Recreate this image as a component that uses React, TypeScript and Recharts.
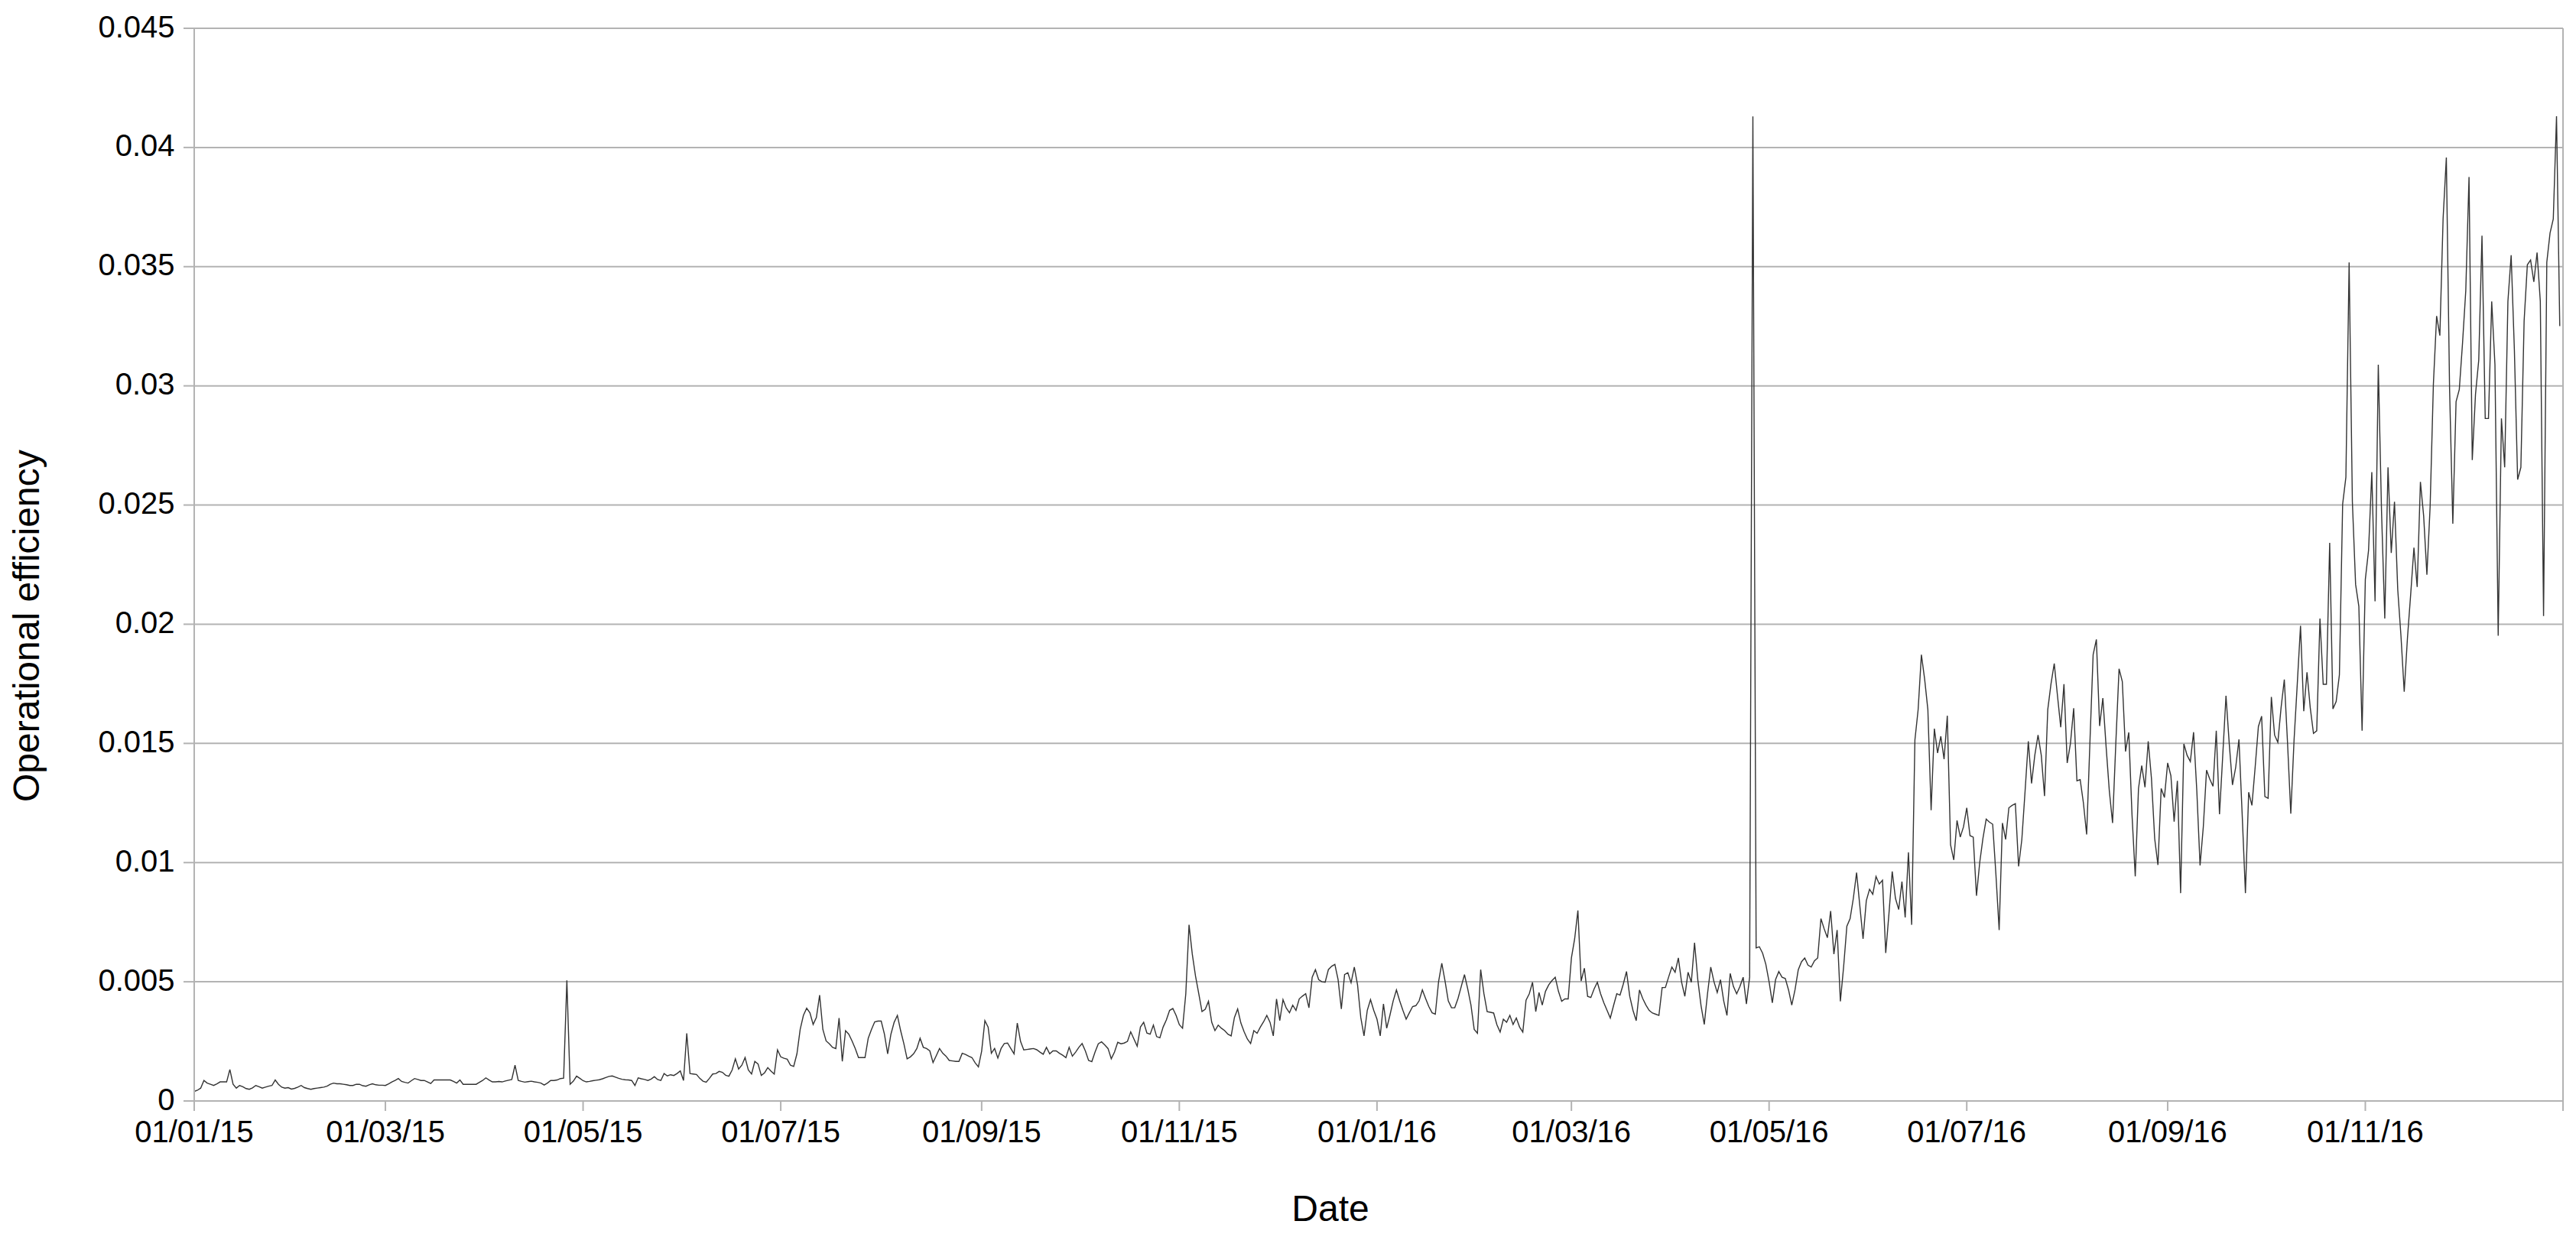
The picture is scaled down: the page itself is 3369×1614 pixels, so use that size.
import React from 'react';
import { LineChart, Line, XAxis, YAxis, CartesianGrid, ReferenceLine } from 'recharts';

// Daily operational efficiency, first value = 01/01/15, one value per day (to 31/12/16)
const startDate = '01/01/15';

const efficiency: number[] = [
  0.0004, 0.00045, 0.00054, 0.00086, 0.00075, 0.0007, 0.00065, 0.00072, 0.0008, 0.0008,
  0.0008, 0.00132, 0.0007, 0.00054, 0.00065, 0.0006, 0.00052, 0.00049, 0.00055, 0.00065,
  0.0006, 0.00054, 0.00058, 0.00062, 0.00065, 0.00088, 0.0007, 0.00058, 0.00054, 0.00056,
  0.0005, 0.00053, 0.00058, 0.00065, 0.00056, 0.00052, 0.00049, 0.00052, 0.00054, 0.00056,
  0.00058, 0.00062, 0.0007, 0.00075, 0.00072, 0.00072, 0.0007, 0.00068, 0.00065, 0.00065,
  0.0007, 0.0007, 0.00064, 0.00062, 0.00068, 0.00072, 0.00068, 0.00066, 0.00066, 0.00065,
  0.00072, 0.0008, 0.00086, 0.00094, 0.00082, 0.00078, 0.00075, 0.00085, 0.00094, 0.0009,
  0.00086, 0.00086, 0.0008, 0.00073, 0.00088, 0.00088, 0.00088, 0.00088, 0.00088, 0.00088,
  0.00082, 0.00075, 0.00088, 0.0007, 0.0007, 0.0007, 0.0007, 0.0007, 0.00078, 0.00086,
  0.00097, 0.00088, 0.0008, 0.0008, 0.00082, 0.0008, 0.00084, 0.00087, 0.0009, 0.0015,
  0.00086, 0.00082, 0.00079, 0.00081, 0.00083, 0.0008, 0.00078, 0.00075, 0.00067, 0.00075,
  0.00086, 0.00086, 0.00088, 0.00094, 0.00096, 0.00506, 0.0007, 0.00083, 0.00104, 0.00095,
  0.00085, 0.0008, 0.00082, 0.00085, 0.00087, 0.00089, 0.00093, 0.00098, 0.00103, 0.00105,
  0.001, 0.00095, 0.00091, 0.00089, 0.00088, 0.00086, 0.00065, 0.00097, 0.00093, 0.0009,
  0.00086, 0.00092, 0.00102, 0.0009, 0.00086, 0.00115, 0.00105, 0.0011, 0.00107, 0.00115,
  0.00126, 0.00086, 0.00284, 0.00115, 0.00113, 0.00111, 0.00095, 0.00083, 0.00079, 0.00095,
  0.00113, 0.00115, 0.00124, 0.0012, 0.00108, 0.00104, 0.0013, 0.00177, 0.00134, 0.0015,
  0.00182, 0.0013, 0.00113, 0.00166, 0.00155, 0.00107, 0.00118, 0.0014, 0.00125, 0.00113,
  0.00214, 0.00185, 0.00179, 0.00175, 0.0015, 0.00145, 0.00198, 0.003, 0.00359, 0.00389,
  0.0037, 0.00321, 0.0035, 0.00444, 0.003, 0.00252, 0.0024, 0.00225, 0.0022, 0.00348,
  0.00166, 0.00295, 0.0028, 0.00252, 0.0022, 0.00182, 0.00182, 0.00182, 0.00263, 0.003,
  0.00332, 0.00335, 0.00335, 0.0028, 0.00198, 0.0028, 0.0033, 0.00359, 0.00295, 0.0024,
  0.00177, 0.00185, 0.00198, 0.0022, 0.00263, 0.00225, 0.0022, 0.0021, 0.00161, 0.0019,
  0.0022, 0.002, 0.00188, 0.0017, 0.00168, 0.00166, 0.00166, 0.002, 0.00195, 0.00188,
  0.00182, 0.0016, 0.00143, 0.00209, 0.00337, 0.0031, 0.002, 0.0022, 0.0018, 0.0022,
  0.00241, 0.00243, 0.0022, 0.00198, 0.00327, 0.0025, 0.00214, 0.00216, 0.00218, 0.0022,
  0.00215, 0.00205, 0.00196, 0.00225, 0.00198, 0.0021, 0.0021, 0.002, 0.00192, 0.00182,
  0.00225, 0.00188, 0.00205, 0.00225, 0.00241, 0.0021, 0.0017, 0.00165, 0.00205, 0.0024,
  0.00248, 0.00235, 0.0022, 0.00177, 0.00205, 0.00246, 0.0024, 0.00243, 0.0025, 0.0029,
  0.0026, 0.0023, 0.0031, 0.0033, 0.00285, 0.0028, 0.00318, 0.0027, 0.00265, 0.0031,
  0.0034, 0.0038, 0.00388, 0.00359, 0.0032, 0.00305, 0.0045, 0.00739, 0.00616, 0.00524,
  0.0045, 0.00375, 0.00385, 0.00418, 0.0033, 0.00295, 0.00318, 0.00305, 0.00295, 0.0028,
  0.00273, 0.0035, 0.00386, 0.00327, 0.0029, 0.0026, 0.00241, 0.00295, 0.00284, 0.0031,
  0.00332, 0.00359, 0.0033, 0.00273, 0.00428, 0.00337, 0.00425, 0.0039, 0.0037, 0.00402,
  0.0038, 0.00428, 0.0044, 0.0045, 0.00391, 0.00519, 0.00551, 0.00509, 0.005, 0.00498,
  0.00551, 0.00565, 0.00573, 0.00509, 0.00386, 0.0053, 0.00538, 0.00496, 0.00562, 0.00487,
  0.0035, 0.00273, 0.0038, 0.00425, 0.0038, 0.00343, 0.00273, 0.00407, 0.00305, 0.0036,
  0.0042, 0.00466, 0.0042, 0.0038, 0.00343, 0.0037, 0.00396, 0.004, 0.0042, 0.00466,
  0.0043, 0.00396, 0.0037, 0.00364, 0.005, 0.00578, 0.00503, 0.0042, 0.00391, 0.00391,
  0.0043, 0.0048, 0.0053, 0.0047, 0.00402, 0.003, 0.00284, 0.00551, 0.0045, 0.00375,
  0.00372, 0.00369, 0.0032, 0.00289, 0.00343, 0.0033, 0.00359, 0.00321, 0.00348, 0.0031,
  0.00289, 0.00423, 0.0045, 0.00498, 0.00375, 0.00455, 0.00402, 0.0046, 0.00487, 0.00505,
  0.00519, 0.0046, 0.00418, 0.00428, 0.00428, 0.006, 0.0068, 0.00799, 0.00503, 0.00557,
  0.00439, 0.00434, 0.0047, 0.00498, 0.0045, 0.00412, 0.0038, 0.00348, 0.004, 0.0045,
  0.00444, 0.0049, 0.00543, 0.00439, 0.0038, 0.00337, 0.00466, 0.0043, 0.00402, 0.0038,
  0.00369, 0.00364, 0.00359, 0.00476, 0.00476, 0.0052, 0.00562, 0.0054, 0.006, 0.00498,
  0.00439, 0.0054, 0.00498, 0.00664, 0.00509, 0.004, 0.00321, 0.0045, 0.00562, 0.005,
  0.00455, 0.00509, 0.0042, 0.00359, 0.00535, 0.0048, 0.0045, 0.0048, 0.00519, 0.00407,
  0.0052, 0.0413, 0.00642, 0.00647, 0.0062, 0.00573, 0.005, 0.00412, 0.00509, 0.00543,
  0.00519, 0.00514, 0.00466, 0.00402, 0.00466, 0.0055, 0.00584, 0.006, 0.0057, 0.00562,
  0.00588, 0.006, 0.00765, 0.00722, 0.00685, 0.00797, 0.00616, 0.00717, 0.00418, 0.00562,
  0.00733, 0.00765, 0.0085, 0.00958, 0.00819, 0.0068, 0.0084, 0.00888, 0.00867, 0.00942,
  0.0091, 0.00926, 0.00621, 0.00787, 0.00963, 0.0085, 0.00803, 0.0092, 0.0077, 0.01043,
  0.00739, 0.01514, 0.01642, 0.01872, 0.0177, 0.01642, 0.0122, 0.01562, 0.0146, 0.0153,
  0.01434, 0.01616, 0.01075, 0.01011, 0.01177, 0.01107, 0.0115, 0.0123, 0.01113, 0.01107,
  0.00861, 0.01, 0.01102, 0.01182, 0.0117, 0.01161, 0.0095, 0.00717, 0.01166, 0.01097,
  0.0123, 0.0124, 0.01247, 0.00984, 0.01097, 0.013, 0.01509, 0.01332, 0.0145, 0.01535,
  0.0145, 0.01279, 0.01642, 0.0175, 0.01835, 0.017, 0.01568, 0.01749, 0.01418, 0.015,
  0.01648, 0.01343, 0.01348, 0.0125, 0.01118, 0.015, 0.01872, 0.01936, 0.01573, 0.0169,
  0.01487, 0.013, 0.01166, 0.015, 0.01813, 0.0176, 0.01466, 0.01546, 0.012, 0.00942,
  0.01311, 0.01407, 0.01316, 0.01509, 0.01353, 0.011, 0.0099, 0.01311, 0.01273, 0.01418,
  0.01364, 0.01172, 0.01343, 0.00872, 0.01498, 0.0145, 0.01424, 0.01547, 0.013, 0.00988,
  0.0115, 0.01388, 0.0135, 0.0132, 0.01553, 0.01203, 0.0145, 0.017, 0.015, 0.01326,
  0.014, 0.01517, 0.012, 0.00872, 0.01295, 0.0124, 0.014, 0.01571, 0.01614, 0.01277,
  0.0127, 0.01695, 0.01535, 0.01504, 0.0165, 0.01768, 0.015, 0.01205, 0.01512, 0.0175,
  0.01993, 0.01635, 0.01798, 0.0165, 0.01542, 0.01553, 0.02024, 0.01748, 0.01748, 0.02341,
  0.01645, 0.01676, 0.01788, 0.02504, 0.02617, 0.03518, 0.02514, 0.02167, 0.02075, 0.01553,
  0.02188, 0.02311, 0.02638, 0.02096, 0.03089, 0.02472, 0.02024, 0.02658, 0.02299, 0.02514,
  0.02146, 0.0195, 0.01717, 0.01942, 0.02126, 0.02321, 0.02156, 0.02597, 0.02454, 0.02208,
  0.02495, 0.03006, 0.03293, 0.03211, 0.03702, 0.03958, 0.02985, 0.02422, 0.02934, 0.02985,
  0.0318, 0.034, 0.03876, 0.02689, 0.02965, 0.03108, 0.0363, 0.02863, 0.02863, 0.03354,
  0.03089, 0.01952, 0.02863, 0.02658, 0.03354, 0.03548, 0.03149, 0.02607, 0.02658, 0.03272,
  0.03508, 0.03528, 0.03436, 0.03559, 0.03354, 0.02034, 0.03518, 0.03641, 0.037, 0.04131,
  0.03251,
];

// X axis tick dates (dd/mm/yy); the last one closes the axis and carries no label
const xTickDates = [
  '01/01/15', '01/03/15', '01/05/15', '01/07/15', '01/09/15', '01/11/15',
  '01/01/16', '01/03/16', '01/05/16', '01/07/16', '01/09/16', '01/11/16', '01/01/17',
];

const yTicks = [0, 0.005, 0.01, 0.015, 0.02, 0.025, 0.03, 0.035, 0.04, 0.045];
const yTickLabels = ['0', '0.005', '0.01', '0.015', '0.02', '0.025', '0.03', '0.035', '0.04', '0.045'];

const xTitle = 'Date';
const yTitle = 'Operational efficiency';

// ---------- derived tables ----------
const toUTC = (s: string) => {
  const [d, m, y] = s.split('/').map(Number);
  return Date.UTC(2000 + y, m - 1, d);
};
const DAY = 86400000;
const start = toUTC(startDate);
const xTickDays = xTickDates.map((s) => Math.round((toUTC(s) - start) / DAY));
const lastTickDay = xTickDays[xTickDays.length - 1];

const data = efficiency.map((v, i) => ({ day: i, value: v }));

// ---------- layout ----------
const W = 3361;
const H = 1606;
const FONT = '"Liberation Sans", Arial, Helvetica, sans-serif';
const AXIS_GREY = '#b3b3b3';
const GRID_W = 2;

const YTick = (props: any) => {
  const { x, y, index } = props;
  return (
    <text x={x - 11.5} y={y + 11.5} textAnchor="end" fill="#000" fontSize={40} fontFamily={FONT}>
      {yTickLabels[index]}
    </text>
  );
};

const XTick = (props: any) => {
  const { x, y, index } = props;
  const label = xTickDays[index] === lastTickDay ? '' : xTickDates[index];
  return (
    <text x={x} y={y + 41} textAnchor="middle" fill="#000" fontSize={40} fontFamily={FONT}>
      {label}
    </text>
  );
};

export default function App() {
  return (
    <div style={{ position: 'relative', width: W, height: H }}>
      <LineChart
        width={W}
        height={H}
        data={data}
        margin={{ top: 29, right: 17, bottom: 0, left: 0 }}
      >
        <CartesianGrid horizontal vertical={false} stroke={AXIS_GREY} strokeWidth={GRID_W} />
        <XAxis
          dataKey="day"
          type="number"
          domain={[0, lastTickDay]}
          ticks={xTickDays}
          interval={0}
          height={174}
          tickSize={13}
          tickMargin={0}
          axisLine={{ stroke: AXIS_GREY, strokeWidth: GRID_W }}
          tickLine={{ stroke: AXIS_GREY, strokeWidth: GRID_W }}
          tick={<XTick />}
          allowDataOverflow
        />
        <YAxis
          type="number"
          domain={[0, 0.045]}
          ticks={yTicks}
          interval={0}
          width={246}
          tickSize={14}
          tickMargin={0}
          axisLine={{ stroke: AXIS_GREY, strokeWidth: GRID_W }}
          tickLine={{ stroke: AXIS_GREY, strokeWidth: GRID_W }}
          tick={<YTick />}
          allowDataOverflow
        />
        <ReferenceLine x={lastTickDay} stroke={AXIS_GREY} strokeWidth={GRID_W} />
        <Line
          type="linear"
          dataKey="value"
          stroke="#333333"
          strokeWidth={1.4}
          dot={false}
          activeDot={false}
          isAnimationActive={false}
        />
      </LineChart>
      <svg
        width={W}
        height={H}
        style={{ position: 'absolute', left: 0, top: 0, pointerEvents: 'none' }}
      >
        <text x={1732} y={1588.7} textAnchor="middle" fill="#000" fontSize={48} fontFamily={FONT}>
          {xTitle}
        </text>
        <text
          transform="translate(43.4, 810.7) rotate(-90)"
          textAnchor="middle"
          fill="#000"
          fontSize={48}
          fontFamily={FONT}
        >
          {yTitle}
        </text>
      </svg>
    </div>
  );
}
